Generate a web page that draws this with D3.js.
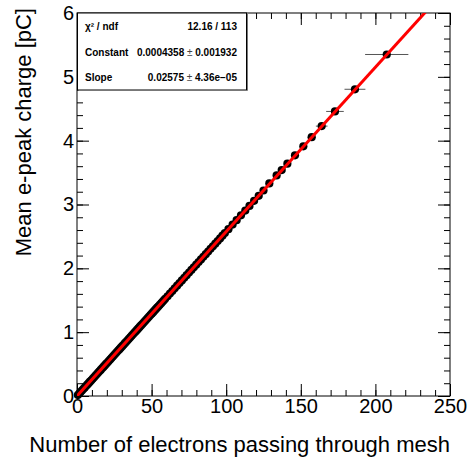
<!DOCTYPE html>
<html>
<head>
<meta charset="utf-8">
<script src="https://cdn.jsdelivr.net/npm/d3@7"></script>
<style>
  body { margin: 0; background: #fff; }
  text { font-family: "Liberation Sans", Arial, Helvetica, sans-serif; }
</style>
</head>
<body>
<script>
//Data: mean charge vs number of electrons
var xValues = [
  0.6, 1.5, 2.4, 3.3, 4.2, 5.1, 6.0, 6.9, 7.8, 8.7, 9.6, 10.5, 11.4, 12.3, 13.2, 14.1,
  15.0, 15.9, 16.8, 17.7, 18.6, 19.5, 20.4, 21.3, 22.2, 23.1, 24.0, 24.9, 25.8, 26.7,
  27.6, 28.5, 29.4, 30.3, 31.2, 32.1, 33.0, 33.9, 34.8, 35.7, 36.6, 37.5, 38.4, 39.3,
  40.2, 41.1, 42.0, 42.9, 43.8, 44.7, 45.6, 46.5, 47.4, 48.3, 49.2, 50.1, 51.0, 51.9,
  52.8, 53.7, 54.6, 55.5, 56.4, 57.3, 58.2, 59.1,
  60.7, 62.3, 63.9, 65.5, 67.1, 68.7, 70.3, 71.9, 73.5, 75.1, 76.7, 78.3, 79.9, 81.5,
  83.1, 84.7, 86.3, 87.9, 89.5, 91.1, 92.7, 94.3, 95.9, 97.5, 99.1,
  101.5, 104.3, 107.0, 109.9, 112.8, 115.6, 118.7, 121.8, 125.0,
  128.9, 133.8, 137.2, 141.0, 146.1, 151.7, 157.3, 164.0, 172.9, 186.3, 207.6
];
var yValues = [
  0.015, 0.039, 0.062, 0.085, 0.108, 0.131, 0.155, 0.178, 0.201, 0.224, 0.247, 0.270, 0.294, 0.317, 0.340, 0.363,
  0.386, 0.409, 0.433, 0.456, 0.479, 0.502, 0.525, 0.548, 0.572, 0.595, 0.618, 0.641, 0.664, 0.688,
  0.711, 0.734, 0.757, 0.780, 0.803, 0.827, 0.850, 0.873, 0.896, 0.919, 0.942, 0.966, 0.989, 1.012,
  1.035, 1.058, 1.082, 1.105, 1.128, 1.151, 1.174, 1.197, 1.221, 1.244, 1.267, 1.290, 1.313, 1.336,
  1.360, 1.383, 1.406, 1.429, 1.452, 1.475, 1.499, 1.522,
  1.563, 1.604, 1.645, 1.687, 1.728, 1.769, 1.810, 1.851, 1.893, 1.934, 1.975, 2.016, 2.057, 2.099,
  2.140, 2.181, 2.222, 2.263, 2.305, 2.346, 2.387, 2.428, 2.469, 2.511, 2.552,
  2.614, 2.686, 2.755, 2.830, 2.905, 2.977, 3.057, 3.136, 3.219,
  3.330, 3.455, 3.540, 3.640, 3.770, 3.912, 4.055, 4.228, 4.458, 4.805, 5.350
];
//Horizontal errors of the sparse high points (the rest are hidden by the markers)
var xErrorsHigh = [0.9, 1.0, 1.1, 1.2, 1.5, 2.0, 2.8, 3.9, 5.9, 7.0, 14.5];
var fitConstant = 0.0004358, fitSlope = 0.02575;

//Stats box lines
var statsRows = [
  ["\u03C7\u00B2 / ndf", "12.16 / 113", ""],
  ["Constant", "0.0004358", "0.001932"],
  ["Slope", "0.02575", "4.36e\u221205"]
];

//Ticks
var xMajor = [0, 50, 100, 150, 200, 250];
var yMajor = [0, 1, 2, 3, 4, 5, 6];

//Define Margin
var margin = {left: 77, right: 20, top: 13, bottom: 66},
    width = 470 - margin.left - margin.right,
    height = 462 - margin.top - margin.bottom;

var svg = d3.select("body")
    .append("svg")
    .attr("width", 470)
    .attr("height", 462)
    .append("g")
    .attr("transform", "translate(" + margin.left + "," + margin.top + ")");

//Scales
var x = d3.scaleLinear().domain([0, 250]).range([0, width]);
var y = d3.scaleLinear().domain([0, 6]).range([height, 0]);

var xMinor = d3.range(0, 251, 10);
var yMinor = d3.range(0, 6.01, 0.2);

//Axes: ROOT style, ticks inside on all four sides
function styleAxis(g) {
  g.select(".domain").remove();
  g.selectAll("line").attr("stroke", "#000");
  g.selectAll("text").style("font-size", "20px").attr("fill", "#000");
}
svg.append("g").attr("transform", "translate(0," + height + ")")
    .call(d3.axisBottom(x).tickValues(xMajor).tickSize(-12).tickPadding(3).tickFormat(d3.format("d")))
    .call(styleAxis);
svg.append("g").attr("transform", "translate(0," + height + ")")
    .call(d3.axisBottom(x).tickValues(xMinor).tickSize(-6).tickFormat(""))
    .call(styleAxis);
svg.append("g")
    .call(d3.axisTop(x).tickValues(xMajor).tickSize(-12).tickFormat(""))
    .call(styleAxis);
svg.append("g")
    .call(d3.axisTop(x).tickValues(xMinor).tickSize(-6).tickFormat(""))
    .call(styleAxis);
svg.append("g")
    .call(d3.axisLeft(y).tickValues(yMajor).tickSize(-12).tickPadding(3).tickFormat(d3.format("d")))
    .call(styleAxis);
svg.append("g")
    .call(d3.axisLeft(y).tickValues(yMinor).tickSize(-6).tickFormat(""))
    .call(styleAxis);
svg.append("g").attr("transform", "translate(" + width + ",0)")
    .call(d3.axisRight(y).tickValues(yMajor).tickSize(-12).tickFormat(""))
    .call(styleAxis);
svg.append("g").attr("transform", "translate(" + width + ",0)")
    .call(d3.axisRight(y).tickValues(yMinor).tickSize(-6).tickFormat(""))
    .call(styleAxis);

//Frame
svg.append("rect")
    .attr("x", 0).attr("y", 0)
    .attr("width", width).attr("height", height)
    .attr("fill", "none").attr("stroke", "#000").attr("stroke-width", 1);

//Clip for fit line
svg.append("clipPath").attr("id", "frame")
    .append("rect").attr("width", width).attr("height", height);

var points = xValues.map(function(d, i) {
  var k = i - (xValues.length - xErrorsHigh.length);
  return {x: d, y: yValues[i], ex: k >= 0 ? xErrorsHigh[k] : 0};
});

//Error bars
svg.append("g").selectAll("line")
    .data(points.filter(function(d) { return d.ex > 0; }))
    .enter().append("line")
    .attr("x1", function(d) { return x(d.x - d.ex); })
    .attr("x2", function(d) { return x(d.x + d.ex); })
    .attr("y1", function(d) { return y(d.y); })
    .attr("y2", function(d) { return y(d.y); })
    .attr("stroke", "#555")
    .attr("stroke-width", 1);

//Markers
svg.append("g").selectAll("circle")
    .data(points)
    .enter().append("circle")
    .attr("cx", function(d) { return x(d.x); })
    .attr("cy", function(d) { return y(d.y); })
    .attr("r", 4.1)
    .attr("fill", "#000");

//Fit line
var fitLine = d3.line()
    .x(function(d) { return x(d); })
    .y(function(d) { return y(fitConstant + fitSlope * d); });
svg.append("path")
    .datum([0, 250])
    .attr("clip-path", "url(#frame)")
    .attr("d", fitLine)
    .attr("fill", "none")
    .attr("stroke", "#ff0000")
    .attr("stroke-width", 3);

//Axis titles
svg.append("text")
    .attr("x", width)
    .attr("y", height + 56)
    .attr("text-anchor", "end")
    .style("font-size", "22px")
    .text("Number of electrons passing through mesh");
svg.append("text")
    .attr("transform", "translate(-46,-5) rotate(-90)")
    .attr("text-anchor", "end")
    .style("font-size", "22px")
    .text("Mean e-peak charge [pC]");

//Stats box
var stats = svg.append("g");
stats.append("rect")
    .attr("x", 0.5).attr("y", 0)
    .attr("width", 169).attr("height", 77)
    .attr("fill", "#fff").attr("stroke", "#000").attr("stroke-width", 1);
stats.append("path")
    .attr("d", "M170.5,1V77.5H1.5")
    .attr("fill", "none").attr("stroke", "#777").attr("stroke-width", 1);
var rowY = [17, 43, 68];
statsRows.forEach(function(r, i) {
  stats.append("text")
      .attr("x", 8).attr("y", rowY[i])
      .style("font-size", "10px").style("font-weight", "bold")
      .text(r[0]);
  var t = stats.append("text")
      .attr("x", 160).attr("y", rowY[i])
      .attr("text-anchor", "end")
      .style("font-size", "10px").style("font-weight", "bold");
  t.append("tspan").text(r[1]);
  if (r[2]) {
    t.append("tspan").style("font-weight", "normal").attr("fill", "#444").text(" \u00B1 ");
    t.append("tspan").text(r[2]);
  }
});
</script>
</body>
</html>
